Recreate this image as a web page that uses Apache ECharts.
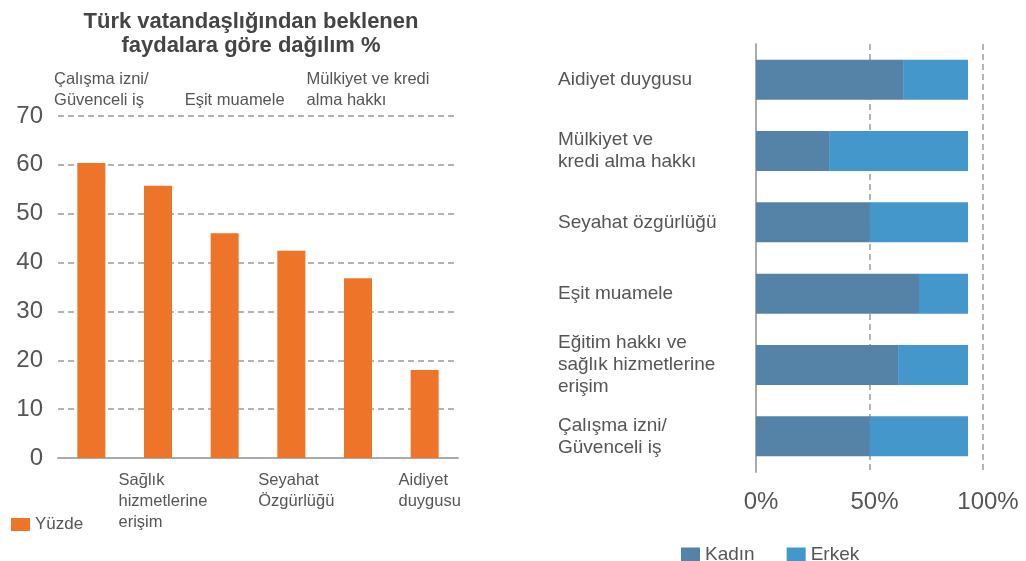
<!DOCTYPE html>
<html>
<head>
<meta charset="utf-8">
<script src="https://cdn.jsdelivr.net/npm/echarts@6/dist/echarts.min.js"></script>
<style>
  html, body { margin: 0; padding: 0; background: #fff; }
  #chart { width: 1026px; height: 561px; }
</style>
</head>
<body>
<div id="chart"></div>
<script>
// sol grafik: beklenen faydalar (yüzde)
var leftCats = ['Çalışma izni/\nGüvenceli iş', 'Sağlık\nhizmetlerine\nerişim', 'Eşit muamele', 'Seyahat\nÖzgürlüğü', 'Mülkiyet ve kredi\nalma hakkı', 'Aidiyet\nduygusu'];
var yuzde = [60.4, 55.7, 46.0, 42.4, 36.8, 18.0];
var leftTicks = [0, 70, 10]; // min, max, aralık

// sağ grafik: cinsiyete göre dağılım
var rightCats = ['Çalışma izni/\nGüvenceli iş', 'Eğitim hakkı ve\nsağlık hizmetlerine\nerişim', 'Eşit muamele', 'Seyahat özgürlüğü', 'Mülkiyet ve\nkredi alma hakkı', 'Aidiyet duygusu'];
var kadin = [50.2, 62.6, 71.8, 50.2, 32.2, 64.8];
var erkek = [43.2, 30.8, 21.6, 43.2, 61.2, 28.6];
var rightTicks = [0, 100, 50];

var textColor = '#555';
var baseFont = "'Liberation Sans', Arial, sans-serif";
var dashed = { color: '#9a9a9a', width: 1.5, type: [6, 4] };

// satırlar sola yaslı, blok ortalı
function block(value) {
    return value.split('\n').map(function (s) { return '{a|' + s + '}'; }).join('\n');
}
var richA = { a: { align: 'left', fontSize: 16.5, lineHeight: 21, color: textColor, fontFamily: baseFont } };

var myChart = echarts.init(document.getElementById('chart'));
myChart.setOption({
    animation: false,
    title: {
        text: 'Türk vatandaşlığından beklenen\nfaydalara göre dağılım %',
        left: 251,
        top: 10,
        padding: 0,
        textAlign: 'center',
        textStyle: { fontSize: 22, fontWeight: 'bold', color: '#444', lineHeight: 24, fontFamily: baseFont }
    },
    legend: [{
        data: ['Yüzde'],
        left: 6,
        top: 511,
        icon: 'rect',
        itemWidth: 19,
        itemHeight: 13,
        itemGap: 8,
        textStyle: { fontSize: 17, color: textColor, fontFamily: baseFont }
    }, {
        data: ['Kadın', 'Erkek'],
        left: 676,
        top: 540,
        icon: 'rect',
        itemWidth: 19,
        itemHeight: 14,
        itemGap: 32,
        textStyle: { fontSize: 19, color: textColor, fontFamily: baseFont }
    }],
    grid: [
        { left: 58, right: 568, top: 116, bottom: 103 },
        { left: 756, right: 43, top: 44, bottom: 89 }
    ],
    xAxis: [{
        gridIndex: 0,
        type: 'category',
        data: leftCats,
        position: 'bottom',
        axisLine: { show: true, lineStyle: { color: '#aaa', width: 2 } },
        axisTick: { show: false },
        axisLabel: {
            interval: 0,
            margin: 12,
            padding: [0, 0, 0, 10],
            formatter: function (v, i) { return i % 2 === 1 ? block(v) : ''; },
            rich: richA
        }
    }, {
        gridIndex: 0,
        type: 'category',
        data: leftCats,
        position: 'top',
        axisLine: { show: false },
        axisTick: { show: false },
        axisLabel: {
            interval: 0,
            margin: 5,
            padding: [0, 0, 0, 20],
            formatter: function (v, i) { return i % 2 === 0 ? block(v) : ''; },
            rich: richA
        }
    }, {
        gridIndex: 1,
        type: 'value',
        min: rightTicks[0],
        max: rightTicks[1],
        interval: rightTicks[2],
        axisLine: { show: false },
        axisTick: { show: false },
        splitLine: { show: true, lineStyle: dashed },
        axisLabel: {
            formatter: '{value}%',
            margin: 18,
            padding: [0, 0, 0, 10],
            fontSize: 24,
            color: textColor,
            fontFamily: baseFont
        }
    }],
    yAxis: [{
        gridIndex: 0,
        type: 'value',
        min: leftTicks[0],
        max: leftTicks[1],
        interval: leftTicks[2],
        axisLine: { show: false },
        axisTick: { show: false },
        splitLine: { show: true, lineStyle: dashed },
        axisLabel: { margin: 15, fontSize: 24, color: textColor, fontFamily: baseFont }
    }, {
        gridIndex: 1,
        type: 'category',
        data: rightCats,
        axisLine: { show: true, lineStyle: { color: '#aaa', width: 2 } },
        axisTick: { show: false },
        axisLabel: {
            align: 'left',
            margin: 198,
            fontSize: 19,
            lineHeight: 22,
            color: textColor,
            fontFamily: baseFont
        }
    }],
    series: [{
        name: 'Yüzde',
        type: 'bar',
        xAxisIndex: 0,
        yAxisIndex: 0,
        barWidth: 28,
        itemStyle: { color: '#ee7429' },
        data: yuzde
    }, {
        name: 'Kadın',
        type: 'bar',
        stack: 'toplam',
        xAxisIndex: 2,
        yAxisIndex: 1,
        barWidth: 40,
        itemStyle: { color: '#5583a8' },
        data: kadin
    }, {
        name: 'Erkek',
        type: 'bar',
        stack: 'toplam',
        xAxisIndex: 2,
        yAxisIndex: 1,
        barWidth: 40,
        itemStyle: { color: '#4497ca' },
        data: erkek
    }]
});
</script>
</body>
</html>
